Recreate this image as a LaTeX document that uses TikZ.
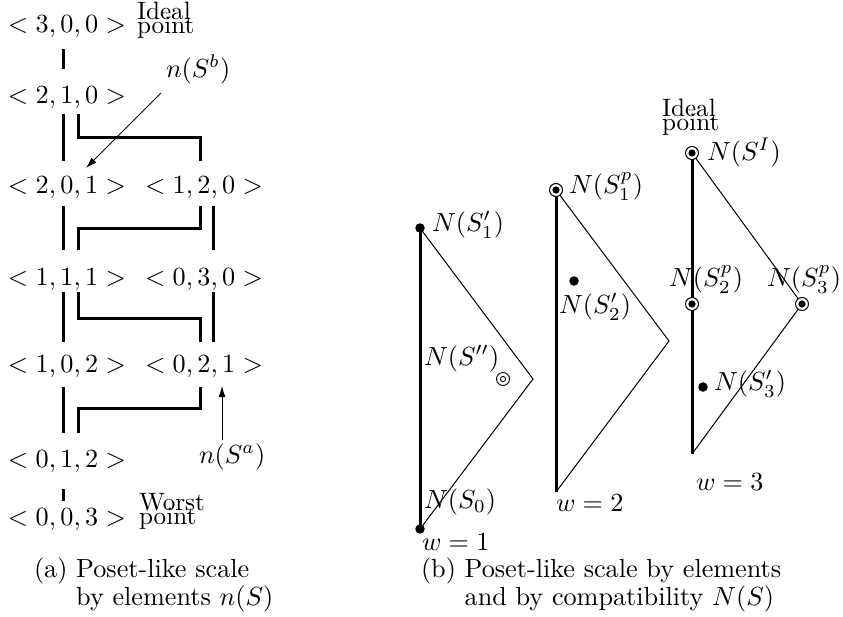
\RequirePackage{fix-cm}
\documentclass[tikz,border=0pt]{standalone}
\usetikzlibrary{arrows.meta,calc}
\begin{document}
\begin{tikzpicture}[x=1pt,y=-1pt,
  every node/.style={inner sep=0pt,outer sep=0pt},
  lbl/.style={anchor=base west,font=\fontsize{10}{11}\selectfont,scale=2.62},
  smalltext/.style={anchor=base west,font=\fontsize{9.6}{10}\selectfont,scale=2.62},
  bar/.style={line width=3pt},
  thinline/.style={line width=1pt},
  arr/.style={line width=1pt,-{Latex[length=11pt,width=7pt]}},
  dot/.style={circle,fill=black,minimum size=9.5pt},
  cdot/.style={circle,draw,fill=white,line width=1pt,minimum size=13pt,
    path picture={\fill[black] (path picture bounding box.center) circle (3.6pt);}},
  bull/.style={circle,draw,fill=white,line width=0.9pt,minimum size=13pt,
    path picture={\draw[black,line width=0.9pt] (path picture bounding box.center) circle (2.6pt);}}]
\useasboundingbox (0,0) rectangle (843,616);

% ---------- (a) ----------
\node[lbl] (r300) at (8,32)  {$<3,0,0>$};
\node[lbl] (r210) at (8,103) {$<2,1,0>$};
\node[lbl] (r201) at (8,193) {$<2,0,1>$};
\node[lbl] (r120) at (145,193) {$<1,2,0>$};
\node[lbl] (r111) at (8,285) {$<1,1,1>$};
\node[lbl] (r030) at (145,285) {$<0,3,0>$};
\node[lbl] (r102) at (8,372) {$<1,0,2>$};
\node[lbl] (r021) at (145,372) {$<0,2,1>$};
\node[lbl] (r012) at (8,467) {$<0,1,2>$};
\node[lbl] (r003) at (8,525) {$<0,0,3>$};

\node[smalltext] (ideal1) at (137,19) {Ideal};
\node[smalltext] (point1) at (137,33) {point};
\node[smalltext] (worst) at (139,510) {Worst};
\node[smalltext] (point2) at (139,524) {point};

\draw[bar] ($(r300.base west)+(55,17)$) -- ($(r210.base west)+(55,-34)$);
\draw[bar] ($(r210.base west)+(55,11)$) -- ($(r201.base west)+(55,-32)$);
\draw[bar] ($(r210.base west)+(70,11)$) |- ($(r120.base west)+(55,-56)$) -- ($(r120.base west)+(55,-32)$);
\draw[bar] ($(r201.base west)+(55,13)$) -- ($(r111.base west)+(55,-35)$);
\draw[bar] ($(r120.base west)+(55,13)$) |- ($(r111.base west)+(70,-57)$) -- ($(r111.base west)+(70,-35)$);
\draw[bar] ($(r120.base west)+(68,13)$) -- ($(r030.base west)+(68,-35)$);
\draw[bar] ($(r111.base west)+(55,7)$) -- ($(r102.base west)+(55,-30)$);
\draw[bar] ($(r111.base west)+(70,7)$) |- ($(r021.base west)+(55,-54)$) -- ($(r021.base west)+(55,-30)$);
\draw[bar] ($(r030.base west)+(68,7)$) -- ($(r021.base west)+(68,-30)$);
\draw[bar] ($(r102.base west)+(55,15)$) -- ($(r012.base west)+(55,-34)$);
\draw[bar] ($(r021.base west)+(55,15)$) |- ($(r012.base west)+(70,-59)$) -- ($(r012.base west)+(70,-34)$);
\draw[bar] ($(r012.base west)+(55,22)$) -- ($(r003.base west)+(55,-24)$);

\node[lbl] (nb) at (166,77) {$n(S^b)$};
\draw[arr] ($(nb.base west)+(-5,16)$) -- ($(r201.base west)+(78,-25)$);
\node[lbl] (na) at (199,463) {$n(S^a)$};
\draw[arr] ($(na.base west)+(23,-23)$) -- ($(r021.base west)+(77,14)$);

\node[lbl] (capa) at (34,577) {\begin{tabular}[t]{@{}l@{ }l@{}}(a) & Poset-like scale\\ & by elements $n(S)$\end{tabular}};

% ---------- (b) ----------
\coordinate (A1) at (420,228);
\coordinate (A2) at (533,379);
\coordinate (A0) at (420,529);
\coordinate (B1) at (556,190);
\coordinate (B2) at (669,341);
\coordinate (B0) at (556,492);
\coordinate (C1) at (692,153);
\coordinate (C2) at (692,304);
\coordinate (C3) at (802,304);
\coordinate (C0) at (692,454);

\draw[bar] (A1) -- (A0);
\draw[thinline] (A1) -- (A2) -- (A0);
\draw[bar] (B1) -- (B0);
\draw[thinline] (B1) -- (B2) -- (B0);
\draw[bar] (C1) -- (C0);
\draw[thinline] (C1) -- (C3) -- (C0);

\node[dot] (nA1) at (A1) {};
\node[dot] (nA0) at (A0) {};
\node[bull] (nApp) at (503,379) {};
\node[cdot] (nB1) at (B1) {};
\node[dot] (nB3) at (574,281) {};
\node[cdot] (nC1) at (C1) {};
\node[cdot] (nC2) at (C2) {};
\node[cdot] (nC3) at (C3) {};
\node[dot] (nC4) at (703,387) {};

\node[lbl] (lA1) at (432,231.5) {$N(S'_1)$};
\node[lbl] (lApp) at (424,365.5) {$N(S'')$};
\node[lbl] (lA0) at (424,508.5) {$N(S_0)$};
\node[lbl] (w1) at (422,550) {$w=1$};

\node[lbl] (lB1) at (569,193.5) {$N(S^p_1)$};
\node[lbl] (lB3) at (559,313.5) {$N(S'_2)$};
\node[lbl] (w2) at (556,511) {$w=2$};

\node[smalltext] (ideal2) at (662,116) {Ideal};
\node[smalltext] (point3) at (662,130) {point};
\node[lbl] (lC1) at (707,160.5) {$N(S^I)$};
\node[lbl] (lC2) at (669,286.5) {$N(S^p_2)$};
\node[lbl] (lC3) at (767,286.5) {$N(S^p_3)$};
\node[lbl] (lC4) at (714,390.5) {$N(S'_3)$};
\node[lbl] (w3) at (696,490) {$w=3$};

\node[lbl] (capb) at (421,577) {\begin{tabular}[t]{@{}l@{ }l@{}}(b) & Poset-like scale by elements\\ & and by compatibility $N(S)$\end{tabular}};
\end{tikzpicture}
\end{document}
